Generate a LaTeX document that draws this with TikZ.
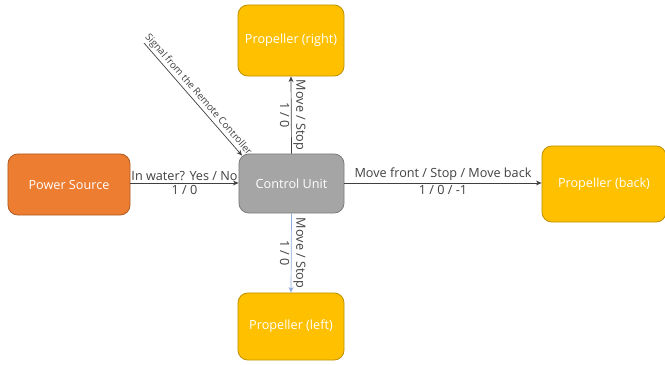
\documentclass[tikz,border=0pt]{standalone}
\usepackage{fontspec}
\setmainfont{Open Sans}
\usetikzlibrary{arrows.meta}

\definecolor{srcfill}{HTML}{ED7D31}
\definecolor{srcline}{HTML}{AE5A21}
\definecolor{cufill}{HTML}{A5A5A5}
\definecolor{culine}{HTML}{7B7B7B}
\definecolor{propfill}{HTML}{FFC000}
\definecolor{propline}{HTML}{BF9000}
\definecolor{wire}{HTML}{404040}
\definecolor{wireblue}{HTML}{8FAADC}

\tikzset{
  block/.style={draw, rounded corners=7pt, line width=0.6pt, text=white,
    font=\fontsize{9}{11}\selectfont, align=center},
  source/.style={block, fill=srcfill, draw=srcline},
  unit/.style={block, fill=cufill, draw=culine},
  prop/.style={block, fill=propfill, draw=propline},
  link/.style={draw=wire, line width=0.5pt, -{Stealth[length=4pt,width=3.5pt]}},
  lbl/.style={font=\fontsize{9}{11}\selectfont, text=wire, inner sep=1.2pt}
}

\begin{document}
\begin{tikzpicture}[x=0.025cm, y=-0.025cm]
\useasboundingbox (0,0) rectangle (665,364);

% blocks
\node[source, minimum width=3.05cm, minimum height=1.525cm] (power) at (69,184.5) {Power Source};
\node[unit, minimum width=2.625cm, minimum height=1.475cm] (ctrl) at (291.5,183.5) {Control Unit};
\node[prop, minimum width=2.65cm, minimum height=1.775cm] (propR) at (291,40.5) {Propeller (right)};
\node[prop, minimum width=2.65cm, minimum height=1.675cm] (propL) at (291,326.5) {Propeller (left)};
\node[prop, minimum width=3.1cm, minimum height=1.9cm] (propB) at (604,184) {Propeller (back)};

% remote controller input
\coordinate (remote) at (144,43);
\coordinate (ctrlin) at (242,155.5);
\draw[link] (remote) -- node[lbl, midway, above, sloped, font=\fontsize{7}{8}\selectfont] {Signal from the Remote Controller} (ctrlin);

% power to control unit
\draw[link] (power.east |- 0,183) -- node[lbl, above] {In water? Yes / No} node[lbl, below] {1 / 0} (ctrl.west |- 0,183);

% control unit to propellers
\draw[link] (ctrl.north) -- node[lbl, rotate=-90, anchor=south] {Move / Stop} node[lbl, rotate=-90, anchor=north] {1 / 0} (propR.south);
\draw[link, draw=wireblue] (ctrl.south) -- node[lbl, rotate=-90, anchor=south] {Move / Stop} node[lbl, rotate=-90, anchor=north] {1 / 0} (propL.north);
\draw[link] (ctrl.east |- 0,183) -- node[lbl, above] {Move front / Stop / Move back} node[lbl, below] {1 / 0 / -1} (propB.west |- 0,183);
\end{tikzpicture}
\end{document}
